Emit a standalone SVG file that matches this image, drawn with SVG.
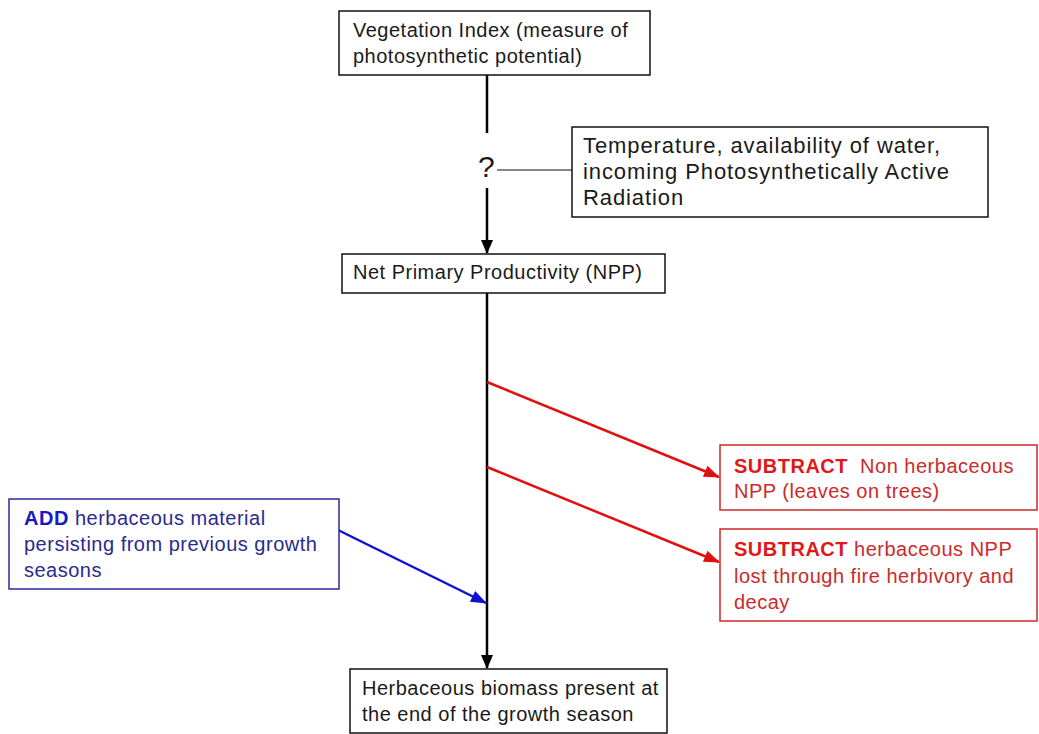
<svg xmlns="http://www.w3.org/2000/svg" width="1039" height="734" viewBox="0 0 1039 734">
<style>
text{font-family:"Liberation Sans",Arial,sans-serif;font-size:20px;letter-spacing:0.5px}
.t2{font-size:22px;letter-spacing:0.9px}
.qm{font-size:30px;letter-spacing:0}
.k{fill:#1a1a1a}
.r{fill:#cc2a2a}
.rb{fill:#e01818;font-weight:bold}
.b{fill:#2a2a90}
.bb{fill:#1818c0;font-weight:bold}
.box{fill:#fff;stroke:#111;stroke-width:1.5}
.rbox{fill:#fff;stroke:#cc2a2a;stroke-width:1.5}
.bbox{fill:#fff;stroke:#2a2aa0;stroke-width:1.5}
.lk{stroke:#000;stroke-width:2.5;fill:none}
.lr{stroke:#e01010;stroke-width:2.5;fill:none}
.lb{stroke:#1010d0;stroke-width:2.5;fill:none}
</style>
<defs>
<marker id="ak" markerWidth="14" markerHeight="14" refX="13" refY="7" orient="auto" markerUnits="userSpaceOnUse"><path d="M0,1 L14,7 L0,13 Z" fill="#000"/></marker>
<marker id="ar" markerWidth="16" markerHeight="14" refX="15" refY="7" orient="auto" markerUnits="userSpaceOnUse"><path d="M0,1 L16,7 L0,13 Z" fill="#e01010"/></marker>
<marker id="ab" markerWidth="16" markerHeight="14" refX="15" refY="7" orient="auto" markerUnits="userSpaceOnUse"><path d="M0,1 L16,7 L0,13 Z" fill="#1010d0"/></marker>
</defs>
<rect width="1039" height="734" fill="#fff"/>
<g id="connectors">
<line class="lk" x1="487" y1="75" x2="487" y2="133"/>
<line class="lk" x1="487" y1="188" x2="487" y2="253" marker-end="url(#ak)"/>
<line x1="497" y1="170" x2="572" y2="170" stroke="#111" stroke-width="1.2"/>
<line class="lk" x1="487" y1="293" x2="487" y2="668" marker-end="url(#ak)"/>
<line class="lr" x1="487" y1="382" x2="719" y2="477" marker-end="url(#ar)"/>
<line class="lr" x1="487" y1="467" x2="719" y2="562" marker-end="url(#ar)"/>
<line class="lb" x1="338" y1="530" x2="486" y2="603" marker-end="url(#ab)"/>
</g>
<g id="q"><text class="k qm" x="478" y="177">?</text></g>
<g id="n1"><rect class="box" x="339" y="11" width="311" height="64"/>
<text class="k" x="353" y="37">Vegetation Index (measure of</text>
<text class="k" x="353" y="63">photosynthetic potential)</text></g>
<g id="n2"><rect class="box" x="572" y="127" width="416" height="90"/>
<text class="k t2" x="583" y="153">Temperature, availability of water,</text>
<text class="k t2" x="583" y="179">incoming Photosynthetically Active</text>
<text class="k t2" x="583" y="205">Radiation</text></g>
<g id="n3"><rect class="box" x="342" y="254" width="323" height="39"/>
<text class="k" x="353" y="279">Net Primary Productivity (NPP)</text></g>
<g id="n4"><rect class="rbox" x="720" y="445" width="317" height="65"/>
<text x="734" y="473"><tspan class="rb">SUBTRACT</tspan><tspan class="r">&#160; Non herbaceous</tspan></text>
<text class="r" x="734" y="498">NPP (leaves on trees)</text></g>
<g id="n5"><rect class="rbox" x="720" y="529" width="317" height="92"/>
<text x="734" y="556"><tspan class="rb">SUBTRACT</tspan><tspan class="r"> herbaceous NPP</tspan></text>
<text class="r" x="734" y="583">lost through fire herbivory and</text>
<text class="r" x="734" y="609">decay</text></g>
<g id="n6"><rect class="bbox" x="9" y="499" width="330" height="90"/>
<text x="24" y="525"><tspan class="bb">ADD</tspan><tspan class="b"> herbaceous material</tspan></text>
<text class="b" x="24" y="551">persisting from previous growth</text>
<text class="b" x="24" y="577">seasons</text></g>
<g id="n7"><rect class="box" x="350" y="669" width="317" height="64"/>
<text class="k" x="362" y="695">Herbaceous biomass present at</text>
<text class="k" x="362" y="721">the end of the growth season</text></g>
</svg>
